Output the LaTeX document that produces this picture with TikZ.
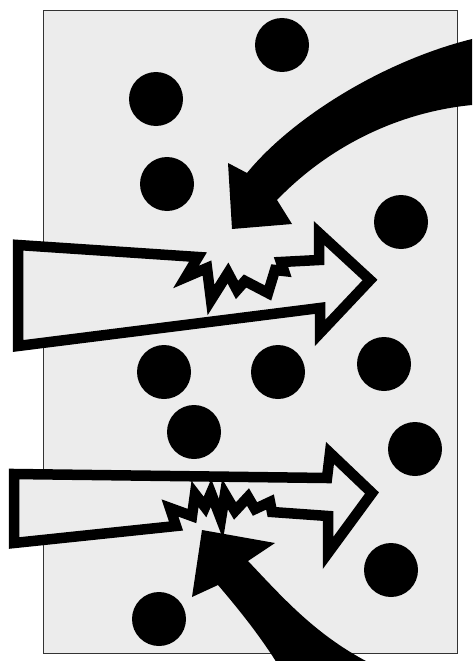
\documentclass[tikz,border=0pt]{standalone}
\usepackage{tikz}
\usetikzlibrary{positioning}
\definecolor{paper}{HTML}{ECECEC}
\definecolor{edge}{HTML}{333333}

\begin{document}
\begin{tikzpicture}[x=1pt,y=-1pt,
  frame/.style={draw=edge,fill=paper,line width=0.9pt},
  dot/.style={circle,fill=black,inner sep=0pt,minimum size=54pt},
  beam/.style={draw=black,fill=paper,line width=10.5pt,line join=miter,miter limit=25},
  blast/.style={fill=black}]
\useasboundingbox (0,0) rectangle (472,661);

% ---- target box
\draw[frame] (43,10) rectangle (457,653);

% ---- particles
\foreach \px/\py [count=\i] in {282/45,156/99,167/184,401/222,164/372,278/372,
                                 384/364,194/432,415/449,391/570,159/619}
  \node[dot] (d\i) at (\px,\py) {};

% ---- upper beam, bitten from above
\draw[beam] (18,245) -- (198,257) -- (186,277) -- (207,268) -- (211,300)
  -- (228,273) -- (237,290) -- (245,281) -- (268,293) -- (275,270)
  -- (284,271) -- (281,262) -- (319,260) -- (319,233) -- (370,280)
  -- (320,333) -- (320,308) -- (18,346) -- cycle;

% ---- lower beam, bitten from below
\draw[beam] (14,474) -- (327,478) -- (330,453) -- (372,493) -- (328,553)
  -- (328,516) -- (272,512) -- (270,502) -- (255,509) -- (248,497)
  -- (235,511) -- (225,494) -- (221,519) -- (211,493) -- (205,507)
  -- (195,494) -- (192,516) -- (170,508) -- (176,526) -- (14,543) -- cycle;

% ---- hit from the upper right
\fill[blast] (472,39) .. controls (380,62) and (290,120) .. (247,173)
  -- (228,163) -- (232,229) -- (292,224) -- (277,200)
  .. controls (330,145) and (400,112) .. (472,105) -- cycle;

% ---- hit from below
\fill[blast] (380,668) .. controls (320,640) and (285,600) .. (248,561)
  -- (275,543) -- (202,530) -- (192,597) -- (218,585)
  .. controls (235,605) and (260,635) .. (280,668) -- cycle;
\end{tikzpicture}
\end{document}
